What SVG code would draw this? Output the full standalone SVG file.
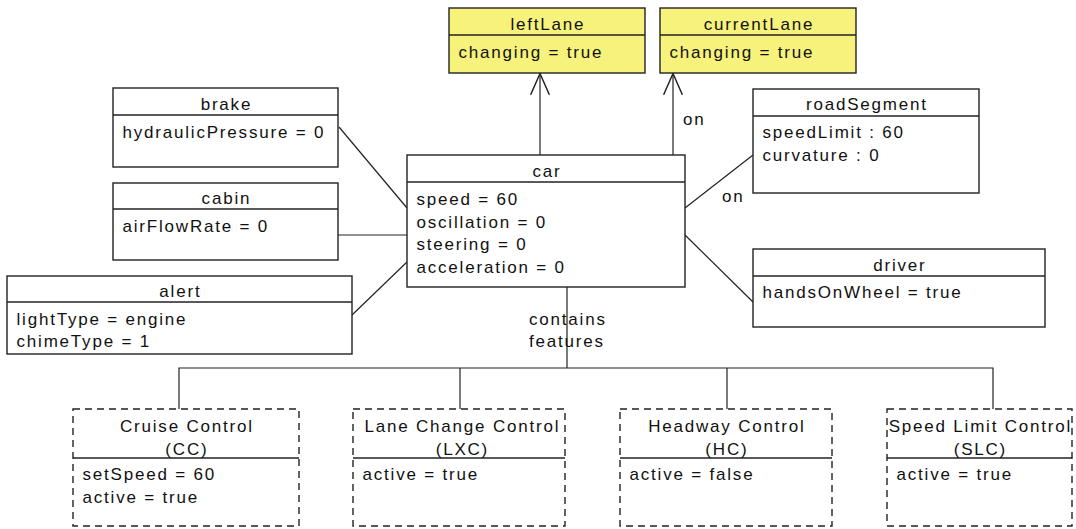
<svg xmlns="http://www.w3.org/2000/svg" width="1076" height="529" viewBox="0 0 1076 529">
  <defs>
    <style>
      .box { fill: #ffffff; stroke: #222222; stroke-width: 1.4; }
      .hl { fill: #f6f27b; }
      .dash { stroke-dasharray: 7 5; }
      .sep { stroke: #222222; stroke-width: 1.4; fill: none; }
      .edge { stroke: #222222; stroke-width: 1.2; fill: none; }
      text { font-family: "Liberation Sans", Arial, sans-serif; font-size: 17px; letter-spacing: 1.8px; fill: #111111; }
      .c { text-anchor: middle; }
    </style>
    <marker id="open" markerUnits="userSpaceOnUse" markerWidth="30" markerHeight="30" refX="0" refY="0" viewBox="-20 -12 24 24" orient="auto" overflow="visible">
      <path d="M-17,-7.5 L0,0 L-17,7.5" fill="none" stroke="#222222" stroke-width="1.2"/>
    </marker>
  </defs>

  <!-- connectors -->
  <g id="connectors">
    <line class="edge" x1="339" y1="127" x2="407" y2="208"/>
    <line class="edge" x1="338" y1="235" x2="407" y2="235"/>
    <line class="edge" x1="352" y1="315" x2="407" y2="262"/>
    <line class="edge" x1="540" y1="155" x2="540" y2="73.5" marker-end="url(#open)"/>
    <line class="edge" x1="673" y1="155" x2="673" y2="73.5" marker-end="url(#open)"/>
    <text x="683" y="125">on</text>
    <line class="edge" x1="685" y1="208" x2="753" y2="155"/>
    <text x="722" y="202">on</text>
    <line class="edge" x1="685" y1="235" x2="753" y2="302"/>
    <line class="edge" x1="567" y1="287" x2="567" y2="368"/>
    <text x="529" y="325">contains</text>
    <text x="529" y="347">features</text>
    <polyline class="edge" points="179,409 179,368 993,368 993,409"/>
    <line class="edge" x1="460" y1="368" x2="460" y2="409"/>
    <line class="edge" x1="727" y1="368" x2="727" y2="409"/>
  </g>

  <!-- lane objects -->
  <g id="leftLane">
    <rect class="box hl" x="449" y="8" width="196" height="65"/>
    <line class="sep" x1="449" y1="35" x2="645" y2="35"/>
    <text class="c" x="547.9" y="30">leftLane</text>
    <text x="458.5" y="58">changing = true</text>
  </g>
  <g id="currentLane">
    <rect class="box hl" x="660" y="8" width="196" height="65"/>
    <line class="sep" x1="660" y1="35" x2="856" y2="35"/>
    <text class="c" x="758.9" y="30">currentLane</text>
    <text x="669.5" y="58">changing = true</text>
  </g>

  <!-- car and its surroundings -->
  <g id="brake">
    <rect class="box" x="113" y="88" width="225" height="79"/>
    <line class="sep" x1="113" y1="115" x2="338" y2="115"/>
    <text class="c" x="226.4" y="110">brake</text>
    <text x="122.5" y="138">hydraulicPressure = 0</text>
  </g>
  <g id="cabin">
    <rect class="box" x="113" y="183" width="225" height="77"/>
    <line class="sep" x1="113" y1="209" x2="338" y2="209"/>
    <text class="c" x="226.4" y="204">cabin</text>
    <text x="122.5" y="232">airFlowRate = 0</text>
  </g>
  <g id="alert">
    <rect class="box" x="7" y="276" width="345" height="78"/>
    <line class="sep" x1="7" y1="302" x2="352" y2="302"/>
    <text class="c" x="180.4" y="297">alert</text>
    <text x="16.5" y="325">lightType = engine</text>
    <text x="16.5" y="347">chimeType = 1</text>
  </g>
  <g id="car">
    <rect class="box" x="407" y="155" width="278" height="132"/>
    <line class="sep" x1="407" y1="182" x2="685" y2="182"/>
    <text class="c" x="546.9" y="177">car</text>
    <text x="416.5" y="205">speed = 60</text>
    <text x="416.5" y="227.7">oscillation = 0</text>
    <text x="416.5" y="250.4">steering = 0</text>
    <text x="416.5" y="273">acceleration = 0</text>
  </g>
  <g id="roadSegment">
    <rect class="box" x="753" y="89" width="226" height="104"/>
    <line class="sep" x1="753" y1="116" x2="979" y2="116"/>
    <text class="c" x="866.9" y="110">roadSegment</text>
    <text x="762.5" y="138">speedLimit : 60</text>
    <text x="762.5" y="160.5">curvature : 0</text>
  </g>
  <g id="driver">
    <rect class="box" x="753" y="249" width="292" height="78"/>
    <line class="sep" x1="753" y1="276" x2="1045" y2="276"/>
    <text class="c" x="899.9" y="271">driver</text>
    <text x="762.5" y="298">handsOnWheel = true</text>
  </g>

  <!-- features -->
  <g id="cruiseControl">
    <rect class="box dash" x="73" y="409" width="226" height="117"/>
    <line class="sep" x1="73" y1="458" x2="299" y2="458"/>
    <text class="c" x="186.9" y="432">Cruise Control</text>
    <text class="c" x="186.9" y="455">(CC)</text>
    <text x="82.5" y="480">setSpeed = 60</text>
    <text x="82.5" y="502.5">active = true</text>
  </g>
  <g id="laneChangeControl">
    <rect class="box dash" x="353" y="409" width="212" height="117"/>
    <line class="sep" x1="353" y1="458" x2="565" y2="458"/>
    <text class="c" x="462.4" y="432">Lane Change Control</text>
    <text class="c" x="462.4" y="455">(LXC)</text>
    <text x="362.5" y="480">active = true</text>
  </g>
  <g id="headwayControl">
    <rect class="box dash" x="620" y="409" width="212" height="117"/>
    <line class="sep" x1="620" y1="458" x2="832" y2="458"/>
    <text class="c" x="726.9" y="432">Headway Control</text>
    <text class="c" x="726.9" y="455">(HC)</text>
    <text x="629.5" y="480">active = false</text>
  </g>
  <g id="speedLimitControl">
    <rect class="box dash" x="887" y="409" width="185" height="117"/>
    <line class="sep" x1="887" y1="458" x2="1072" y2="458"/>
    <text class="c" x="980.4" y="432">Speed Limit Control</text>
    <text class="c" x="980.4" y="455">(SLC)</text>
    <text x="896.5" y="480">active = true</text>
  </g>
</svg>
